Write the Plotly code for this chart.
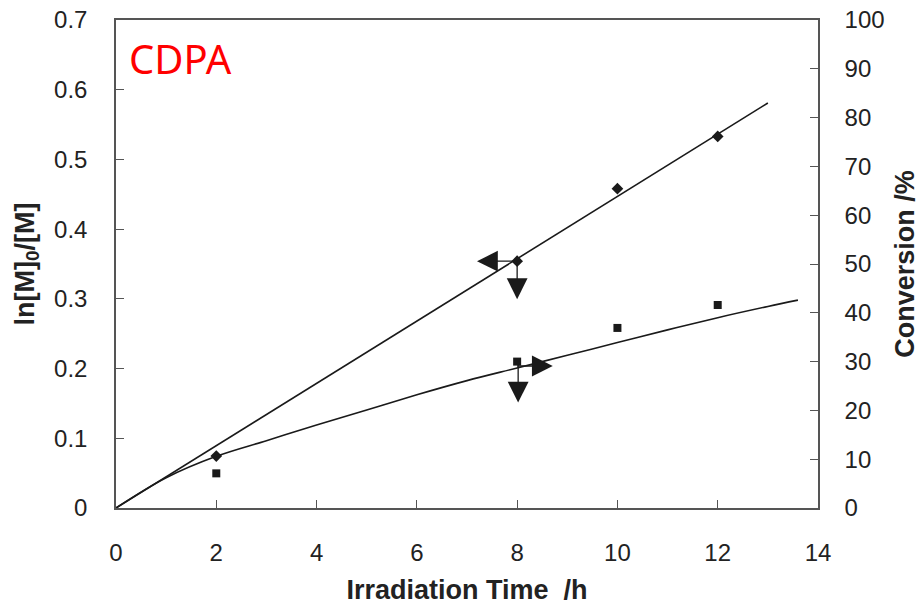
import plotly.graph_objects as go

# Measured data
time_h = [2, 8, 10, 12]
ln_ratio = [0.0745, 0.354, 0.458, 0.533]          # ln[M]0/[M]
conversion_pct = [7.1, 30.0, 36.9, 41.6]           # conversion, %

# Fitted first-order line for ln[M]0/[M]
fit_ln_t = [0, 13.0]
fit_ln_y = [0, 0.581]

# Smooth curve drawn through the conversion data
fit_conv_t = [0, 1, 2, 3, 4, 5, 6, 7, 8, 9, 10, 11, 12, 13, 13.6]
fit_conv_y = [0, 6.2, 10.6, 13.8, 17.0, 20.1, 23.2, 26.1, 28.7, 31.3,
              33.9, 36.5, 39.0, 41.3, 42.6]

# Axis ticks
x_ticks = [0, 2, 4, 6, 8, 10, 12, 14]
y_ticks = [0, 0.1, 0.2, 0.3, 0.4, 0.5, 0.6, 0.7]
y_tick_text = ["0", "0.1", "0.2", "0.3", "0.4", "0.5", "0.6", "0.7"]
y2_ticks = [0, 10, 20, 30, 40, 50, 60, 70, 80, 90, 100]

INK = "#1a1a1a"
AXIS = "#555555"
TICK_FONT = dict(family="Liberation Sans, Arial, sans-serif", size=24, color="#222222")
TITLE_FONT = dict(family="Liberation Sans, Arial, sans-serif", size=27, color="#222222")

fig = go.Figure()

fig.add_trace(go.Scatter(x=fit_ln_t, y=fit_ln_y, mode="lines",
                         line=dict(color=INK, width=1.6), showlegend=False))
fig.add_trace(go.Scatter(x=fit_conv_t, y=fit_conv_y, mode="lines", yaxis="y2",
                         line=dict(color=INK, width=1.6, shape="spline"),
                         showlegend=False))
fig.add_trace(go.Scatter(x=time_h, y=ln_ratio, mode="markers",
                         marker=dict(symbol="diamond", size=9, color=INK),
                         showlegend=False))
fig.add_trace(go.Scatter(x=time_h, y=conversion_pct, mode="markers", yaxis="y2",
                         marker=dict(symbol="square", size=8, color=INK),
                         showlegend=False))

arrow_style = dict(showarrow=True, arrowhead=2, arrowsize=3.2, arrowwidth=1.3,
                   arrowcolor=INK, text="", axref="pixel", ayref="pixel")

# ln series points to the left axis
fig.add_annotation(x=7.2, y=ln_ratio[1], ax=38, ay=0, xref="x", yref="y", **arrow_style)
fig.add_annotation(x=8, y=0.2996, ax=0, ay=-37, xref="x", yref="y", **arrow_style)
# conversion series points to the right axis
fig.add_annotation(x=8.71, y=29.1, ax=-37, ay=0, xref="x", yref="y2", **arrow_style)
fig.add_annotation(x=8.02, y=21.6, ax=0, ay=-40, xref="x", yref="y2", **arrow_style)

fig.add_annotation(x=0.015, y=0.982, xref="paper", yref="paper", xanchor="left",
                   yanchor="top", showarrow=False, text="CDPA",
                   font=dict(family="Noto Sans, Open Sans, sans-serif", size=40,
                             color="#ff0000"))

fig.update_layout(
    width=923, height=605,
    margin=dict(l=116, r=105, t=20, b=97),
    paper_bgcolor="white", plot_bgcolor="white",
    xaxis=dict(range=[0, 14], tickvals=x_ticks, ticks="inside", ticklen=8,
               tickcolor=AXIS, showline=True, linecolor=AXIS, linewidth=1.5,
               mirror=True, showgrid=False, zeroline=False, automargin=False,
               tickfont=TICK_FONT, ticklabelstandoff=22,
               title=dict(text="<b>Irradiation Time  /h</b>", font=TITLE_FONT,
                          standoff=22)),
    yaxis=dict(range=[0, 0.7], tickvals=y_ticks, ticktext=y_tick_text,
               ticks="inside", ticklen=8, tickcolor=AXIS, showline=True,
               linecolor=AXIS, linewidth=1.5, showgrid=False, zeroline=False,
               automargin=False, tickfont=TICK_FONT, ticklabelstandoff=22,
               title=dict(text="<b>ln[M]<sub>0</sub>/[M]</b>", font=TITLE_FONT,
                          standoff=12)),
    yaxis2=dict(range=[0, 100], tickvals=y2_ticks, overlaying="y", side="right",
                ticks="inside", ticklen=8, tickcolor=AXIS, showline=True,
                linecolor=AXIS, linewidth=1.5, showgrid=False, zeroline=False,
                automargin=False, tickfont=TICK_FONT, ticklabelstandoff=20,
                title=dict(text="<b>Conversion /%</b>", font=TITLE_FONT,
                           standoff=12)),
)

fig.write_html("out.html")
